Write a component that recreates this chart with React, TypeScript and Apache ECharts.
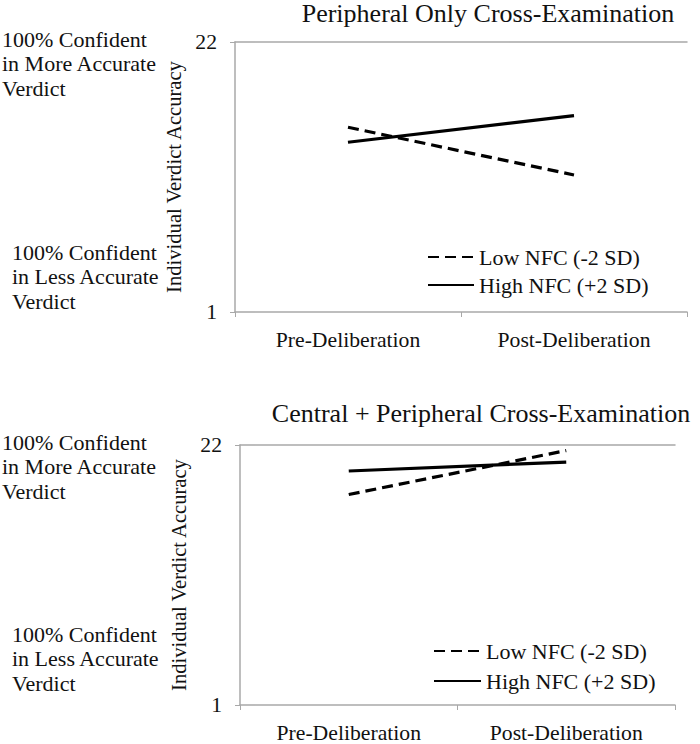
import React, { useEffect, useRef } from "react";
import * as echarts from "echarts";

const categories = ["Pre-Deliberation", "Post-Deliberation"];
const seriesNames = ["Low NFC (-2 SD)", "High NFC (+2 SD)"];
const topTitle = "Peripheral Only Cross-Examination";
const bottomTitle = "Central + Peripheral Cross-Examination";
const topLow = [15.37, 11.66];
const topHigh = [14.2, 16.27];
const bottomLow = [18.0, 21.55];
const bottomHigh = [19.9, 20.62];
const yTicks = [1, 22];
const yName = "Individual Verdict Accuracy";
const upperNote = "100% Confident\nin More Accurate\nVerdict";
const lowerNote = "100% Confident\nin Less Accurate\nVerdict";

const FONT = "'Liberation Serif', 'Times New Roman', Times, serif";
const AXIS_GRAY = "#a8a8a8";

export default function App() {
  const ref = useRef<HTMLDivElement>(null);
  useEffect(() => {
    document.body.style.margin = "0";
    const chart = echarts.init(ref.current!, null, { renderer: "svg" });
    const grids = [
      { left: 235, top: 42, width: 452, height: 270 },
      { left: 240, top: 445, width: 435, height: 263 },
    ];
    const textBase = { fontFamily: FONT, color: "#111" };
    const xAxes: any[] = [];
    const yAxes: any[] = [];
    grids.forEach((g, i) => {
      xAxes.push({
        type: "category",
        gridIndex: i,
        data: categories,
        boundaryGap: true,
        axisLine: { lineStyle: { color: AXIS_GRAY, width: 1.5 } },
        axisTick: { show: true, length: 5, lineStyle: { color: AXIS_GRAY } },
        axisLabel: { ...textBase, fontSize: 21.7, margin: 17 },
      });
      xAxes.push({
        type: "category",
        gridIndex: i,
        position: "top",
        data: categories,
        axisLine: { lineStyle: { color: AXIS_GRAY, width: 1.5 } },
        axisTick: { show: false },
        axisLabel: { show: false },
      });
      yAxes.push({
        type: "value",
        gridIndex: i,
        min: 1,
        max: 22,
        splitLine: { show: false },
        axisLine: { show: true, lineStyle: { color: AXIS_GRAY, width: 1.5 } },
        axisTick: { show: true, length: 5, customValues: yTicks, lineStyle: { color: AXIS_GRAY } },
        axisLabel: { ...textBase, fontSize: 21.7, margin: 18, customValues: yTicks },
        name: yName,
        nameLocation: "middle",
        nameRotate: 90,
        nameGap: 46,
        nameTextStyle: { ...textBase, fontSize: 20.6 },
      });
    });
    const mk = (name: string, data: number[], grid: number, dashed: boolean) => ({
      type: "line",
      name,
      data,
      xAxisIndex: grid * 2,
      yAxisIndex: grid,
      symbol: "none",
      lineStyle: { color: "#000", width: 3.2, type: dashed ? [11, 6] : "solid" },
      itemStyle: { color: "#000" },
    });
    const note = (x: number, y: number, text: string) => ({
      type: "text",
      left: x,
      top: y,
      style: { text, fontFamily: FONT, fontSize: 22, fill: "#111", lineHeight: 24.5 },
    });
    const legendBase = {
      data: seriesNames,
      orient: "vertical",
      padding: 0,
      itemHeight: 14,
      selectedMode: false,
      itemStyle: { color: "transparent", borderColor: "transparent", borderWidth: 0, opacity: 0 },
      textStyle: { ...textBase, fontSize: 22 },
    };
    chart.setOption({
      animation: false,
      backgroundColor: "#fff",
      title: [
        { text: topTitle, left: 488, top: 0, padding: 0, textAlign: "center", textStyle: { ...textBase, fontSize: 26, fontWeight: "normal" } },
        { text: bottomTitle, left: 481, top: 400, padding: 0, textAlign: "center", textStyle: { ...textBase, fontSize: 26, fontWeight: "normal" } },
      ],
      grid: grids,
      xAxis: xAxes,
      yAxis: yAxes,
      legend: [
        { ...legendBase, left: 427, top: 246, itemWidth: 46, itemGap: 6 },
        { ...legendBase, left: 433, top: 640, itemWidth: 47, itemGap: 8 },
      ],
      graphic: [
        note(2, 27, upperNote),
        note(12, 240, lowerNote),
        note(2, 430, upperNote),
        note(12, 622, lowerNote),
      ],
      series: [
        mk(seriesNames[0], topLow, 0, true),
        mk(seriesNames[1], topHigh, 0, false),
        mk(seriesNames[0], bottomLow, 1, true),
        mk(seriesNames[1], bottomHigh, 1, false),
      ],
    });
    return () => chart.dispose();
  }, []);
  return <div ref={ref} style={{ width: 700, height: 744 }} />;
}
